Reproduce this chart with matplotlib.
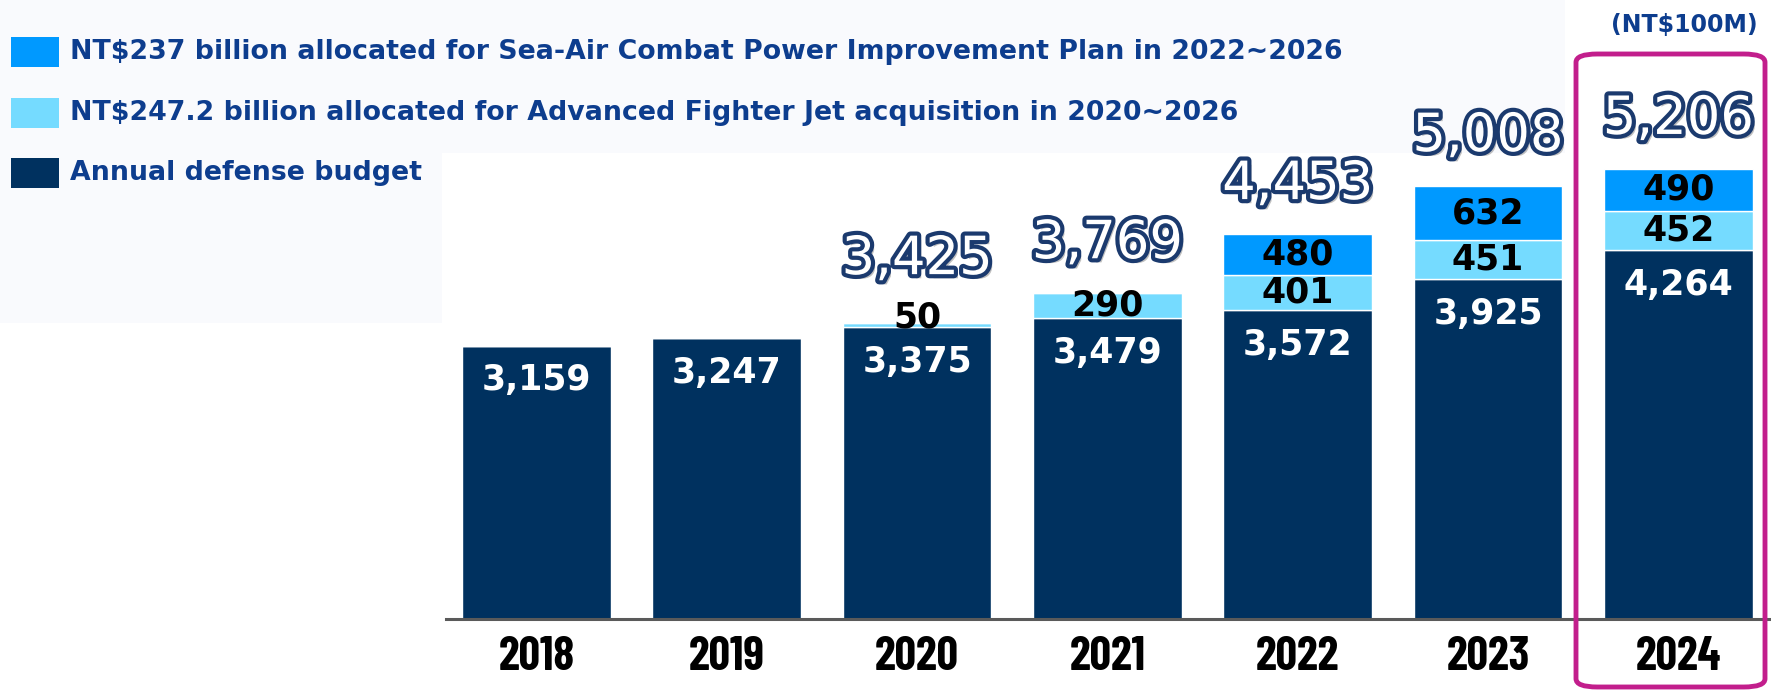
import matplotlib.pyplot as plt
import matplotlib.patheffects as pe
from matplotlib.patches import Rectangle, FancyBboxPatch
import numpy as np

# values in NT$100M
years = ['2018', '2019', '2020', '2021', '2022', '2023', '2024']
annual_budget = [3159, 3247, 3375, 3479, 3572, 3925, 4264]
fighter_jet = [0, 0, 50, 290, 401, 451, 452]
sea_air = [0, 0, 0, 0, 480, 632, 490]

legend_labels = [
    'NT$237 billion allocated for Sea-Air Combat Power Improvement Plan in 2022~2026',
    'NT$247.2 billion allocated for Advanced Fighter Jet acquisition in 2020~2026',
    'Annual defense budget',
]

c_dark = '#00315F'
c_light = '#75DBFF'
c_blue = '#0099FF'
c_text = '#0D3D8E'
c_pink = '#C21E8C'

W, H = 1771, 691
fig = plt.figure(figsize=(W / 100, H / 100), dpi=100)
fig.patch.set_facecolor('white')

# faint tint of the pasted legend area
fig.patches.append(Rectangle((0, 1 - 153 / H), 1565 / W, 153 / H, transform=fig.transFigure,
                             facecolor='#F9FAFD', edgecolor='none', zorder=-1))
fig.patches.append(Rectangle((0, 1 - 323 / H), 442 / W, 170 / H, transform=fig.transFigure,
                             facecolor='#F9FAFD', edgecolor='none', zorder=-1))

ax = fig.add_axes([446 / W, 1 - 619 / H, 1 - 446 / W, 619 / H])
ax.set_facecolor('none')

x = np.arange(len(years))
base = np.array(annual_budget)
fj = np.array(fighter_jet)
sa = np.array(sea_air)
totals = base + fj + sa

bw = 0.78
ax.bar(x, base, bw, color=c_dark, edgecolor='white', linewidth=1)
ax.bar(x, fj, bw, bottom=base, color=c_light, edgecolor='white', linewidth=1)
ax.bar(x, sa, bw, bottom=base + fj, color=c_blue, edgecolor='white', linewidth=1)

seg_font = dict(fontsize=25, fontweight='bold', family='DejaVu Sans', ha='center', va='center')

for i in range(len(years)):
    ax.annotate(f'{base[i]:,}', (x[i], base[i]), xytext=(0, -25), textcoords='offset points',
                color='white', **seg_font)
    total_off = 25
    if fj[i] > 0:
        if fj[i] < 150:
            # too thin to hold its label, put it on top
            ax.annotate(f'{fj[i]:,}', (x[i], base[i] + fj[i]), xytext=(0, 4),
                        textcoords='offset points', color='black', **seg_font)
            total_off = 35
        else:
            ax.text(x[i], base[i] + fj[i] / 2, f'{fj[i]:,}', color='black', **seg_font)
    if sa[i] > 0:
        ax.text(x[i], base[i] + fj[i] + sa[i] / 2, f'{sa[i]:,}', color='black', **seg_font)
    if fj[i] + sa[i] > 0:
        ax.annotate(f'{totals[i]:,}', (x[i], totals[i]), xytext=(0, total_off),
                    textcoords='offset points', ha='center', va='baseline',
                    fontsize=38, family='DejaVu Sans', color='white',
                    path_effects=[pe.SimplePatchShadow(offset=(3, -3), alpha=0.35),
                                  pe.Stroke(linewidth=6, foreground='#1B3A6E'),
                                  pe.Normal()])

ax.set_xlim(-0.475, 6.487)
ax.set_ylim(0, 7156)
ax.set_yticks([])
ax.set_xticks(x)
ax.set_xticklabels(years, fontsize=34, fontweight='bold', family='Barlow Condensed')
ax.tick_params(axis='x', length=0, pad=12)
for s in ['top', 'right', 'left']:
    ax.spines[s].set_visible(False)
ax.spines['bottom'].set_color('#5A5A5A')
ax.spines['bottom'].set_linewidth(2.2)

# legend drawn by hand like the slide
leg_colors = [c_blue, c_light, c_dark]
leg_y = [52, 113, 173]
for col, lab, yy in zip(leg_colors, legend_labels, leg_y):
    fig.patches.append(Rectangle((11 / W, 1 - (yy + 15) / H), 48 / W, 30 / H,
                                 transform=fig.transFigure, facecolor=col, edgecolor='none'))
    fig.text(70 / W, 1 - yy / H, lab, fontsize=19.3, fontweight='bold', color=c_text,
             family='DejaVu Sans', va='center', ha='left')

fig.text(1684 / W, 1 - 25 / H, '(NT$100M)', fontsize=17, fontweight='bold', color=c_text,
         family='DejaVu Sans', va='center', ha='center')

# highlight box around 2024
fig.patches.append(FancyBboxPatch((1576 / W, 1 - 687 / H), 189 / W, 633 / H,
                                  boxstyle='round,pad=0,rounding_size=0.012',
                                  transform=fig.transFigure, facecolor='none',
                                  edgecolor=c_pink, linewidth=3.5, zorder=5))

fig.savefig('out.png', dpi=100)
